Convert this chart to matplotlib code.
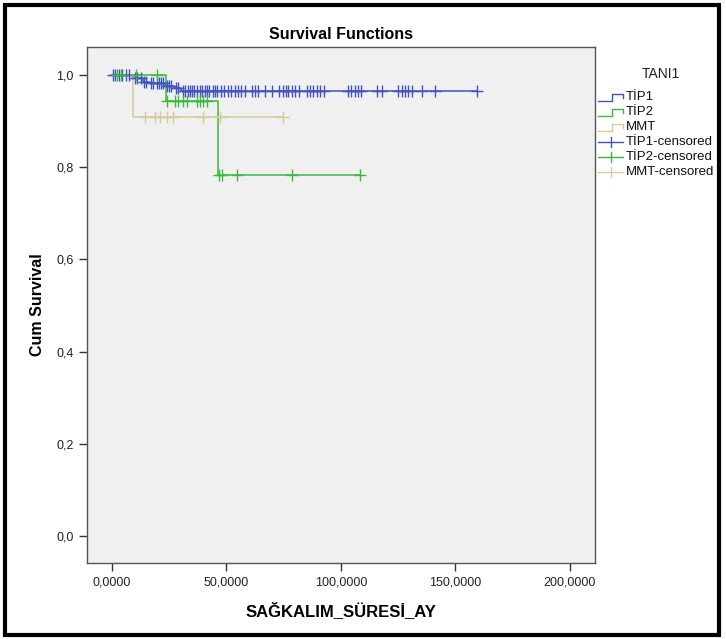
import numpy as np
import matplotlib
matplotlib.use("Agg")
import matplotlib.pyplot as plt
from matplotlib.lines import Line2D
from matplotlib.patches import Rectangle

plt.rcParams['font.family'] = ['Liberation Sans', 'DejaVu Sans']

# Kaplan-Meier step data (time in months, cumulative survival)
tip1_times = [0, 9, 13.5, 16, 23, 27, 30, 159.4]
tip1_surv = [1.0, 0.993, 0.986, 0.982, 0.977, 0.971, 0.966, 0.966]
tip1_cens = [0.5, 1.5, 3, 4.5, 6, 7.5, 10, 11, 12.5, 14, 15, 17, 18, 19.5, 20.5,
             21.5, 22.5, 24, 25, 26, 28, 29, 31, 32, 33, 34, 35, 36, 37, 38.5,
             39.5, 40.5, 41.5, 42.5, 44, 45, 46, 47.5, 49, 50.6, 52, 53.7, 55,
             56.5, 58, 61, 62.5, 64, 66.8, 70, 73, 74.5, 76, 77, 78.5, 80, 81.5,
             85, 86.5, 88, 89.5, 91, 92.5, 103, 104.5, 106, 107.5, 109, 115.7,
             118, 125, 126.5, 128, 129.5, 131, 135.4, 141, 159.4]

tip2_times = [0, 23.6, 46.3, 108.3]
tip2_surv = [1.0, 0.944, 0.784, 0.784]
tip2_cens = [2, 4, 10.5, 19.7, 24, 27.5, 29, 31, 32.7, 37, 38.4, 39.7, 41.5,
             46.7, 48, 54.6, 78.6, 108.3]

mmt_times = [0, 9.2, 74.7]
mmt_surv = [1.0, 0.909, 0.909]
mmt_cens = [14.4, 18.8, 21, 24, 26.6, 39.7, 47, 74.7]

groups = ['TİP1', 'TİP2', 'MMT']
colors = ['#4353bd', '#3cb83c', '#d8c99b']

fig = plt.figure(figsize=(7.26, 6.39), dpi=100)
ax = fig.add_axes([87 / 726, 1 - 563 / 639, 508 / 726, 516 / 639])
ax.set_facecolor('#f0f0f0')

series = [(tip1_times, tip1_surv, tip1_cens),
          (tip2_times, tip2_surv, tip2_cens),
          (mmt_times, mmt_surv, mmt_cens)]
for (t, s, c), col in zip(series, colors):
    ax.step(t, s, where='post', color=col, lw=1.1, zorder=2)
    # survival at censor time (post-step value)
    cy = [s[np.searchsorted(t, ci, side='right') - 1] for ci in c]
    ax.plot(c, cy, ls='none', marker='+', ms=8, mew=1.0, color=col, zorder=3)

ax.set_xlim(-10.9, 211)
ax.set_ylim(-0.059, 1.061)
ax.set_xticks([0, 50, 100, 150, 200])
ax.set_xticklabels(['0,0000', '50,0000', '100,0000', '150,0000', '200,0000'])
ax.set_yticks([0, 0.2, 0.4, 0.6, 0.8, 1.0])
ax.set_yticklabels(['0,0', '0,2', '0,4', '0,6', '0,8', '1,0'])
ax.tick_params(direction='out', length=6, width=1, color='#333333',
               labelsize=9, labelcolor='#222222')
for sp in ax.spines.values():
    sp.set_color('#555555')
    sp.set_linewidth(1)

ax.set_title('Survival Functions', fontsize=11.5, fontweight='bold', pad=6)
ax.set_xlabel('SAĞKALIM_SÜRESİ_AY', fontsize=12, fontweight='bold', labelpad=10)
ax.set_ylabel('Cum Survival', fontsize=11.5, fontweight='bold', labelpad=8)

# legend drawn in pixel-based figure coordinates
W, H = 726, 639
fig.text(661 / W, 1 - 74 / H, 'TANI1', ha='center', va='center', fontsize=10,
         color='#222222')
row_y = [97, 112, 127, 142, 157, 172]
labels = groups + [g + '-censored' for g in groups]
for i, (lab, y) in enumerate(zip(labels, row_y)):
    col = colors[i % 3]
    if i < 3:
        xs = [598, 612, 612, 623, 623]
        ys = [y + 4, y + 4, y - 3, y - 3, y + 1]
        fig.add_artist(Line2D([x / W for x in xs], [1 - v / H for v in ys],
                              color=col, lw=1))
    else:
        fig.add_artist(Line2D([598 / W, 623 / W], [1 - y / H, 1 - y / H],
                              color=col, lw=1))
        fig.add_artist(Line2D([610.5 / W, 610.5 / W],
                              [1 - (y - 5) / H, 1 - (y + 5) / H],
                              color=col, lw=1))
    fig.text(626 / W, 1 - y / H, lab, ha='left', va='center', fontsize=9.5,
             color='#111111')

# outer black frame
fig.add_artist(Rectangle((5 / W, 4 / H), 714 / W, 630 / H, fill=False,
                         edgecolor='black', lw=3, transform=fig.transFigure))

fig.savefig('out.png', dpi=100)
